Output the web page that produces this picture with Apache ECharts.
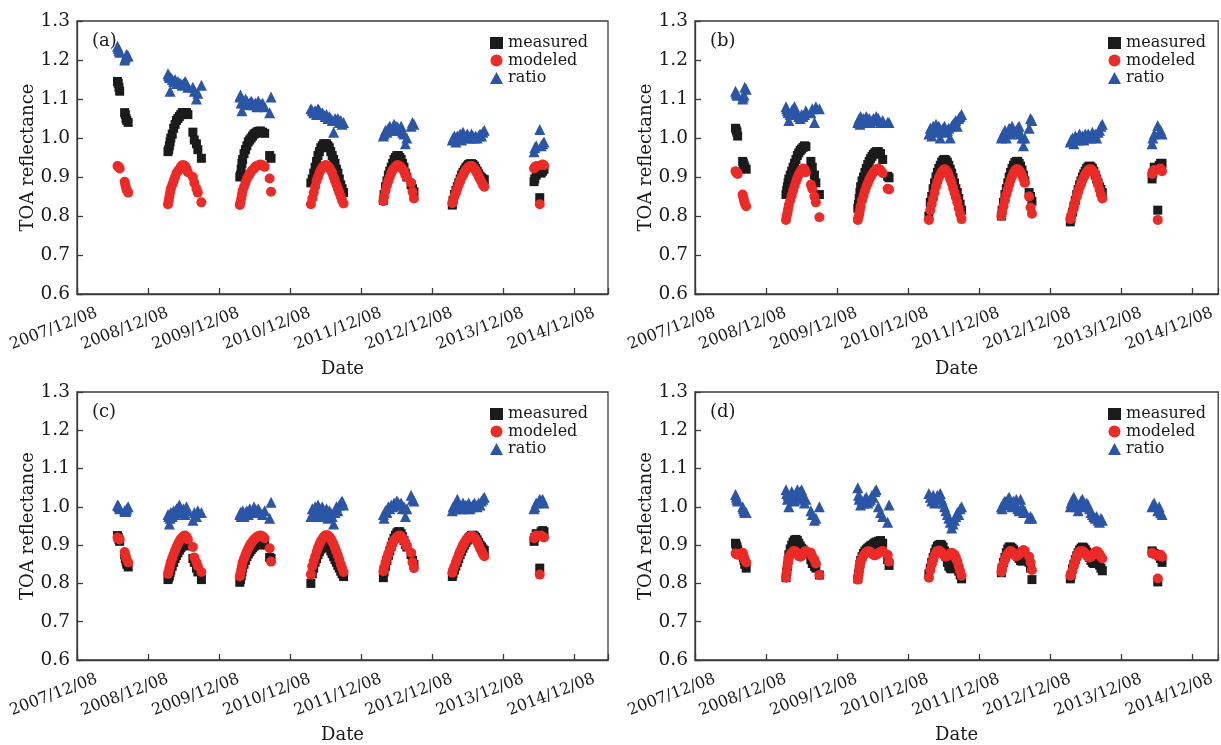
<!DOCTYPE html>
<html><head><meta charset="utf-8">
<script src="https://cdn.jsdelivr.net/npm/echarts@6/dist/echarts.min.js"></script>
<style>html,body{margin:0;padding:0;background:#fff}#c{width:1221px;height:745px}</style>
</head><body><div id="c"></div>
<script>
// ---------------- DATA ----------------
const TICK_LABELS = ['2007/12/08','2008/12/08','2009/12/08','2010/12/08','2011/12/08','2012/12/08','2013/12/08','2014/12/08'];
const SERIES_NAMES = ['measured','modeled','ratio'];
const PANEL_LABELS = ['(a)','(b)','(c)','(d)'];
// observation dates, in years since 2007/12/08 (shared by all panels)
const DATE_YEARS = [
  0.57,0.58,0.59,0.60,0.67,0.68,0.69,0.70,0.72,
  1.28,1.29,1.30,1.31,1.32,1.34,1.36,1.38,1.40,1.42,1.44,1.46,1.48,1.50,1.52,1.54,1.56,1.63,1.65,1.68,1.70,1.75,
  2.29,2.30,2.31,2.32,2.33,2.35,2.37,2.39,2.41,2.43,2.45,2.47,2.49,2.51,2.53,2.55,2.58,2.61,2.64,2.71,2.73,
  3.29,3.31,3.33,3.35,3.37,3.39,3.41,3.43,3.45,3.47,3.49,3.51,3.53,3.55,3.57,3.59,3.61,3.63,3.65,3.67,3.69,3.71,3.73,3.75,
  4.31,4.32,4.34,4.36,4.38,4.40,4.42,4.44,4.46,4.48,4.50,4.52,4.54,4.56,4.58,4.60,4.62,4.64,4.70,4.72,4.74,
  5.28,5.29,5.31,5.33,5.35,5.37,5.39,5.41,5.43,5.45,5.47,5.49,5.51,5.53,5.55,5.57,5.59,5.61,5.63,5.65,5.67,5.69,5.71,5.73,
  6.43,6.44,6.46,6.51,6.53,6.55,6.57
];

const A_MEASURED = [
  1.145,1.14,1.13,1.12,1.065,1.06,1.05,1.045,1.04,
  0.965,0.97,0.98,0.99,1.0,1.01,1.025,1.035,1.045,1.05,1.055,1.06,1.065,1.065,1.065,1.065,1.06,1.015,0.995,0.985,0.97,0.948,
  0.90,0.905,0.92,0.935,0.945,0.96,0.97,0.98,0.99,0.995,1.0,1.005,1.01,1.012,1.015,1.017,1.018,1.015,1.012,0.955,0.948,
  0.885,0.895,0.91,0.925,0.94,0.955,0.965,0.975,0.98,0.985,0.985,0.985,0.98,0.975,0.965,0.955,0.945,0.935,0.92,0.91,0.895,0.88,0.87,0.86,
  0.84,0.855,0.875,0.89,0.905,0.915,0.925,0.935,0.945,0.95,0.955,0.955,0.95,0.945,0.935,0.925,0.91,0.9,0.88,0.87,0.862,
  0.828,0.84,0.855,0.865,0.875,0.885,0.895,0.905,0.912,0.918,0.924,0.928,0.932,0.934,0.934,0.932,0.928,0.922,0.915,0.908,0.902,0.898,0.895,0.893,
  0.888,0.895,0.905,0.847,0.91,0.915,0.92
];
const A_MODELED = [
  0.928,0.926,0.925,0.922,0.888,0.88,0.872,0.866,0.86,
  0.83,0.84,0.85,0.86,0.87,0.88,0.89,0.90,0.91,0.915,0.92,0.926,0.93,0.93,0.928,0.922,0.912,0.90,0.885,0.87,0.86,0.835,
  0.828,0.835,0.845,0.855,0.865,0.875,0.885,0.895,0.902,0.908,0.914,0.918,0.922,0.926,0.928,0.93,0.932,0.93,0.926,0.896,0.862,
  0.83,0.845,0.86,0.875,0.89,0.90,0.91,0.918,0.924,0.928,0.93,0.93,0.928,0.924,0.918,0.91,0.9,0.89,0.88,0.87,0.86,0.85,0.84,0.832,
  0.838,0.85,0.865,0.878,0.89,0.9,0.91,0.917,0.922,0.926,0.93,0.93,0.928,0.925,0.92,0.915,0.905,0.9,0.885,0.862,0.845,
  0.833,0.838,0.85,0.86,0.87,0.88,0.89,0.898,0.905,0.912,0.918,0.922,0.926,0.928,0.928,0.926,0.922,0.916,0.91,0.902,0.895,0.888,0.88,0.875,
  0.922,0.925,0.928,0.83,0.93,0.932,0.93
];
const A_RATIO = [
  1.235,1.23,1.225,1.22,1.20,1.205,1.21,1.215,1.21,
  1.165,1.16,1.155,1.12,1.155,1.15,1.145,1.15,1.14,1.145,1.14,1.14,1.135,1.14,1.145,1.14,1.13,1.13,1.12,1.10,1.115,1.135,
  1.105,1.11,1.09,1.07,1.095,1.09,1.1,1.095,1.085,1.09,1.095,1.09,1.085,1.09,1.08,1.095,1.085,1.09,1.08,1.065,1.105,
  1.075,1.07,1.065,1.07,1.06,1.075,1.07,1.06,1.065,1.06,1.055,1.06,1.05,1.055,1.05,1.045,1.015,1.05,1.045,1.05,1.04,1.045,1.035,1.04,
  1.005,1.01,1.02,1.015,1.025,1.03,1.02,1.025,1.035,1.02,1.03,1.025,1.02,1.03,1.015,1.01,0.985,1.0,1.03,1.04,1.035,
  0.995,1.0,1.005,0.99,1.005,1.0,1.01,0.995,1.015,1.005,1.0,1.01,1.005,1.0,1.01,1.005,1.0,1.005,1.0,1.005,1.01,1.005,1.015,1.02,
  0.965,0.975,0.98,1.022,0.98,0.985,0.99
];

const B_MEASURED = [
  1.025,1.02,1.015,1.005,0.94,0.935,0.93,0.925,0.92,
  0.855,0.865,0.875,0.885,0.895,0.905,0.915,0.925,0.935,0.945,0.955,0.962,0.968,0.972,0.976,0.98,0.978,0.94,0.925,0.905,0.885,0.855,
  0.82,0.83,0.845,0.86,0.875,0.89,0.9,0.912,0.922,0.932,0.94,0.947,0.953,0.958,0.962,0.965,0.965,0.96,0.945,0.902,0.898,
  0.80,0.835,0.85,0.87,0.885,0.9,0.912,0.922,0.93,0.938,0.943,0.945,0.943,0.938,0.93,0.92,0.91,0.898,0.885,0.87,0.86,0.845,0.83,0.815,
  0.80,0.815,0.835,0.855,0.87,0.885,0.9,0.912,0.922,0.93,0.937,0.94,0.94,0.935,0.928,0.918,0.905,0.89,0.86,0.85,0.838,
  0.785,0.795,0.81,0.825,0.84,0.855,0.868,0.88,0.89,0.9,0.908,0.915,0.922,0.926,0.928,0.926,0.922,0.915,0.905,0.895,0.885,0.875,0.868,0.86,
  0.895,0.91,0.925,0.815,0.93,0.935,0.935
];
const B_MODELED = [
  0.915,0.913,0.91,0.908,0.855,0.848,0.84,0.832,0.825,
  0.79,0.8,0.808,0.818,0.828,0.84,0.852,0.865,0.877,0.888,0.898,0.906,0.913,0.918,0.922,0.92,0.912,0.88,0.87,0.85,0.835,0.797,
  0.79,0.797,0.805,0.815,0.825,0.84,0.852,0.864,0.875,0.884,0.893,0.9,0.906,0.912,0.916,0.92,0.922,0.918,0.91,0.87,0.868,
  0.79,0.815,0.83,0.845,0.86,0.875,0.888,0.898,0.906,0.913,0.918,0.92,0.918,0.913,0.905,0.895,0.885,0.872,0.86,0.848,0.835,0.82,0.805,0.792,
  0.80,0.81,0.825,0.84,0.855,0.868,0.88,0.892,0.902,0.91,0.916,0.92,0.92,0.917,0.912,0.905,0.895,0.885,0.85,0.822,0.806,
  0.792,0.8,0.812,0.825,0.838,0.85,0.862,0.873,0.883,0.892,0.9,0.907,0.913,0.918,0.92,0.92,0.917,0.912,0.905,0.895,0.883,0.868,0.855,0.845,
  0.908,0.912,0.918,0.79,0.92,0.922,0.915
];
const B_RATIO = [
  1.12,1.115,1.11,1.11,1.10,1.105,1.11,1.13,1.125,
  1.08,1.075,1.07,1.065,1.045,1.06,1.07,1.075,1.08,1.065,1.06,1.055,1.05,1.06,1.055,1.06,1.07,1.065,1.075,1.04,1.08,1.075,
  1.04,1.045,1.05,1.035,1.055,1.045,1.05,1.04,1.055,1.045,1.05,1.04,1.045,1.05,1.045,1.055,1.05,1.04,1.045,1.04,1.04,
  1.01,1.025,1.005,1.03,1.02,1.035,1.015,1.03,1.0,1.02,1.025,1.03,1.015,1.02,1.025,1.0,1.03,1.035,1.04,1.045,1.03,1.05,1.055,1.06,
  1.0,1.005,1.01,1.02,1.0,1.015,1.025,1.01,1.03,1.02,1.015,1.02,1.025,1.03,1.01,1.0,0.98,1.0,1.025,1.05,1.045,
  0.99,0.995,1.0,0.985,1.005,1.0,0.995,1.01,1.0,1.005,0.995,1.01,1.0,1.01,1.005,1.0,1.015,1.005,1.01,1.0,1.015,1.02,1.03,1.035,
  0.985,1.0,1.01,1.032,1.015,1.02,1.01
];

const C_MEASURED = [
  0.925,0.92,0.915,0.91,0.875,0.865,0.858,0.85,0.843,
  0.81,0.815,0.82,0.828,0.835,0.845,0.855,0.865,0.873,0.88,0.887,0.893,0.898,0.902,0.904,0.903,0.898,0.865,0.855,0.84,0.83,0.81,
  0.803,0.81,0.82,0.83,0.84,0.85,0.86,0.87,0.877,0.883,0.888,0.893,0.897,0.9,0.903,0.905,0.906,0.905,0.9,0.868,0.865,
  0.8,0.825,0.84,0.855,0.865,0.875,0.883,0.89,0.895,0.898,0.9,0.9,0.898,0.893,0.885,0.878,0.87,0.862,0.855,0.847,0.84,0.832,0.825,0.818,
  0.815,0.83,0.845,0.86,0.873,0.885,0.897,0.908,0.918,0.926,0.932,0.935,0.935,0.93,0.922,0.912,0.902,0.895,0.875,0.86,0.85,
  0.818,0.825,0.835,0.845,0.855,0.865,0.875,0.884,0.892,0.9,0.907,0.913,0.918,0.922,0.925,0.926,0.924,0.92,0.914,0.907,0.9,0.895,0.89,0.886,
  0.91,0.92,0.93,0.84,0.935,0.938,0.935
];
const C_MODELED = [
  0.92,0.918,0.916,0.915,0.882,0.875,0.868,0.862,0.855,
  0.825,0.832,0.84,0.848,0.856,0.866,0.876,0.886,0.895,0.903,0.91,0.916,0.92,0.924,0.925,0.922,0.915,0.895,0.868,0.855,0.845,0.83,
  0.818,0.826,0.835,0.845,0.855,0.865,0.875,0.884,0.892,0.899,0.905,0.91,0.915,0.918,0.921,0.924,0.925,0.923,0.918,0.892,0.857,
  0.823,0.845,0.858,0.87,0.882,0.893,0.902,0.91,0.916,0.921,0.925,0.926,0.925,0.922,0.917,0.91,0.902,0.893,0.883,0.873,0.862,0.85,0.84,0.83,
  0.832,0.842,0.855,0.867,0.878,0.888,0.897,0.905,0.912,0.917,0.921,0.924,0.925,0.923,0.919,0.913,0.905,0.897,0.88,0.855,0.84,
  0.828,0.835,0.845,0.855,0.865,0.875,0.884,0.892,0.9,0.906,0.912,0.917,0.921,0.923,0.924,0.923,0.92,0.915,0.908,0.9,0.892,0.884,0.877,0.871,
  0.918,0.922,0.925,0.823,0.925,0.922,0.92
];
const C_RATIO = [
  1.005,1.003,1.0,0.995,0.99,0.988,0.99,0.995,1.0,
  0.98,0.975,0.955,0.97,0.985,0.975,0.99,0.98,0.995,0.985,1.005,0.99,0.985,0.995,0.98,1.0,0.99,0.965,0.985,0.975,0.99,0.985,
  0.98,0.985,0.975,0.98,0.99,0.975,0.985,0.99,0.98,0.995,0.985,0.99,1.0,0.985,0.99,0.995,0.985,0.98,0.99,0.97,1.012,
  0.975,0.995,0.985,1.0,0.975,1.005,0.99,0.98,1.0,0.975,0.985,0.995,0.97,0.99,0.985,0.975,0.955,0.985,1.0,0.99,1.005,1.01,1.015,1.005,
  0.98,0.97,0.99,0.985,1.0,0.995,1.005,1.0,1.01,1.005,1.015,1.01,1.005,1.01,0.995,1.0,0.975,0.995,1.03,1.02,1.015,
  0.99,1.0,0.995,1.01,1.02,1.005,0.995,1.0,1.01,0.995,1.005,1.0,1.01,0.995,1.0,1.005,1.01,1.005,1.0,1.01,1.005,1.015,1.02,1.025,
  0.995,1.0,1.01,1.02,1.015,1.02,1.01
];

const D_MEASURED = [
  0.905,0.9,0.895,0.888,0.875,0.868,0.86,0.85,0.84,
  0.815,0.83,0.845,0.86,0.875,0.89,0.9,0.908,0.913,0.915,0.912,0.905,0.898,0.892,0.888,0.883,0.878,0.862,0.852,0.845,0.84,0.822,
  0.812,0.825,0.838,0.85,0.86,0.87,0.878,0.884,0.888,0.892,0.895,0.898,0.9,0.903,0.906,0.908,0.91,0.912,0.905,0.862,0.847,
  0.825,0.84,0.855,0.868,0.88,0.89,0.897,0.9,0.902,0.9,0.895,0.885,0.87,0.855,0.845,0.84,0.838,0.84,0.842,0.845,0.84,0.832,0.822,0.812,
  0.828,0.84,0.855,0.868,0.88,0.89,0.895,0.895,0.892,0.888,0.882,0.876,0.87,0.865,0.86,0.858,0.862,0.865,0.855,0.84,0.81,
  0.812,0.822,0.838,0.85,0.862,0.872,0.88,0.887,0.892,0.895,0.893,0.888,0.882,0.875,0.868,0.86,0.855,0.852,0.855,0.858,0.855,0.848,0.84,0.833,
  0.885,0.88,0.878,0.804,0.872,0.865,0.855
];
const D_MODELED = [
  0.878,0.877,0.876,0.875,0.88,0.875,0.868,0.862,0.855,
  0.815,0.83,0.845,0.857,0.867,0.875,0.88,0.884,0.885,0.882,0.877,0.872,0.87,0.872,0.877,0.882,0.885,0.88,0.87,0.862,0.852,0.822,
  0.81,0.822,0.835,0.847,0.857,0.866,0.873,0.878,0.882,0.884,0.884,0.882,0.878,0.875,0.873,0.875,0.878,0.882,0.885,0.875,0.857,
  0.815,0.835,0.85,0.862,0.872,0.88,0.885,0.886,0.884,0.88,0.876,0.872,0.87,0.872,0.875,0.878,0.88,0.878,0.875,0.868,0.858,0.845,0.832,0.82,
  0.83,0.84,0.852,0.862,0.872,0.878,0.882,0.885,0.882,0.878,0.874,0.871,0.873,0.876,0.88,0.884,0.887,0.885,0.87,0.855,0.835,
  0.82,0.822,0.835,0.848,0.86,0.87,0.878,0.883,0.885,0.885,0.882,0.878,0.873,0.869,0.868,0.87,0.874,0.878,0.882,0.884,0.882,0.877,0.87,0.865,
  0.88,0.878,0.876,0.813,0.872,0.875,0.87
];
const D_RATIO = [
  1.032,1.026,1.02,1.015,1.0,0.995,0.99,0.985,0.985,
  1.045,1.035,1.02,1.03,1.0,1.025,1.04,1.03,1.015,1.035,1.045,1.025,1.04,1.045,1.02,1.01,1.02,0.99,0.98,0.965,0.97,1.0,
  1.05,1.03,1.02,1.025,1.005,1.015,1.01,1.02,1.025,1.01,1.015,1.02,1.03,1.025,1.04,1.045,1.0,0.985,0.975,0.96,1.005,
  1.035,1.025,1.015,1.03,1.01,1.02,1.03,1.025,1.035,1.02,1.01,1.0,0.99,0.98,0.97,0.96,0.945,0.955,0.965,0.975,0.985,0.98,0.995,1.0,
  1.0,0.995,1.01,1.015,1.005,1.02,1.025,1.01,1.0,1.015,1.005,1.02,0.995,0.99,1.02,1.0,0.985,0.99,0.97,0.975,0.97,
  1.0,1.01,1.02,1.025,1.015,1.0,0.99,1.005,1.015,1.02,1.01,1.0,1.01,1.005,0.995,0.985,0.98,0.975,0.97,0.975,0.965,0.96,0.97,0.965,
  1.0,1.005,1.01,0.99,1.0,0.985,0.98
];

// ---------------- LAYOUT / STYLE ----------------
const PANEL_DATA = [
  [A_MEASURED, A_MODELED, A_RATIO],
  [B_MEASURED, B_MODELED, B_RATIO],
  [C_MEASURED, C_MODELED, C_RATIO],
  [D_MEASURED, D_MODELED, D_RATIO]
];
PANEL_DATA.forEach((p, i) => p.forEach((arr, j) => {
  if (arr.length !== DATE_YEARS.length) throw new Error('length mismatch panel ' + i + ' series ' + j + ': ' + arr.length + ' vs ' + DATE_YEARS.length);
}));

const FONT = '"DejaVu Serif", serif';
const TXT = '#1a1a1a';
const AX = '#3a3a3a';
const GRIDS = [
  {left: 77,  top: 21,  width: 531, height: 273, xMax: 7.47},
  {left: 695, top: 21,  width: 524, height: 273, xMax: 7.36},
  {left: 77,  top: 392, width: 531, height: 272, xMax: 7.47},
  {left: 695, top: 392, width: 524, height: 272, xMax: 7.36}
];
const STYLES = [
  {symbol: 'rect', size: 9, color: '#1b1b1b'},
  {symbol: 'circle', size: 10, color: '#ec2a26'},
  {symbol: 'triangle', size: 11, color: '#2b55a6'}
];

const xFmt = v => {
  const i = Math.round(v);
  return (Math.abs(v - i) < 1e-6 && TICK_LABELS[i] !== undefined) ? TICK_LABELS[i] : '';
};

const option = {
  animation: false,
  backgroundColor: '#fff',
  title: GRIDS.map((g, i) => ({
    text: PANEL_LABELS[i], left: g.left + 15, top: g.top + 11, padding: 0,
    textStyle: {fontFamily: FONT, fontSize: 18, fontWeight: 'normal', color: TXT}
  })),
  legend: GRIDS.map((g, i) => ({
    orient: 'vertical', left: g.left + 413, top: g.top + 14, padding: 0,
    itemWidth: 13, itemHeight: 12, itemGap: 1.5,
    textStyle: {fontFamily: FONT, fontSize: 16, color: TXT, lineHeight: 15},
    data: SERIES_NAMES.slice()
  })),
  grid: GRIDS.map(g => ({
    left: g.left, top: g.top, width: g.width, height: g.height,
    show: true, borderColor: AX, borderWidth: 1.3, backgroundColor: 'transparent', containLabel: false
  })),
  xAxis: GRIDS.map((g, i) => ({
    gridIndex: i, type: 'value', min: 0, max: g.xMax, interval: 1,
    name: 'Date', nameLocation: 'middle', nameGap: 66, nameMoveOverlap: false,
    nameTextStyle: {fontFamily: FONT, fontSize: 18, color: TXT},
    axisLine: {show: true, onZero: false, lineStyle: {color: AX, width: 1.3}},
    axisTick: {show: true, inside: true, length: 6, lineStyle: {color: AX, width: 1.3}},
    axisLabel: {formatter: xFmt, rotate: 21, margin: 26, align: 'center', verticalAlign: 'middle',
      padding: [0, 50, 0, 0], fontFamily: FONT, fontSize: 16, color: TXT},
    splitLine: {show: false}
  })),
  yAxis: GRIDS.map((g, i) => ({
    gridIndex: i, type: 'value', min: 0.6, max: 1.3, interval: 0.1,
    name: 'TOA reflectance', nameLocation: 'middle', nameRotate: 90, nameGap: 40, nameMoveOverlap: false,
    nameTextStyle: {fontFamily: FONT, fontSize: 18, color: TXT},
    axisLine: {show: true, onZero: false, lineStyle: {color: AX, width: 1.3}},
    axisTick: {show: true, inside: true, length: 6, lineStyle: {color: AX, width: 1.3}},
    axisLabel: {formatter: v => v.toFixed(1), margin: 7, fontFamily: FONT, fontSize: 18.5, color: TXT},
    splitLine: {show: false}
  })),
  series: []
};

PANEL_DATA.forEach((p, i) => {
  p.forEach((vals, j) => {
    option.series.push({
      type: 'scatter', name: SERIES_NAMES[j], xAxisIndex: i, yAxisIndex: i,
      symbol: STYLES[j].symbol, symbolSize: STYLES[j].size,
      itemStyle: {color: STYLES[j].color, opacity: 1},
      z: 2 + j,
      data: DATE_YEARS.map((d, k) => [d, vals[k]])
    });
  });
});

const chart = echarts.init(document.getElementById('c'), null, {renderer: 'canvas'});
chart.setOption(option);
</script>
</body></html>
